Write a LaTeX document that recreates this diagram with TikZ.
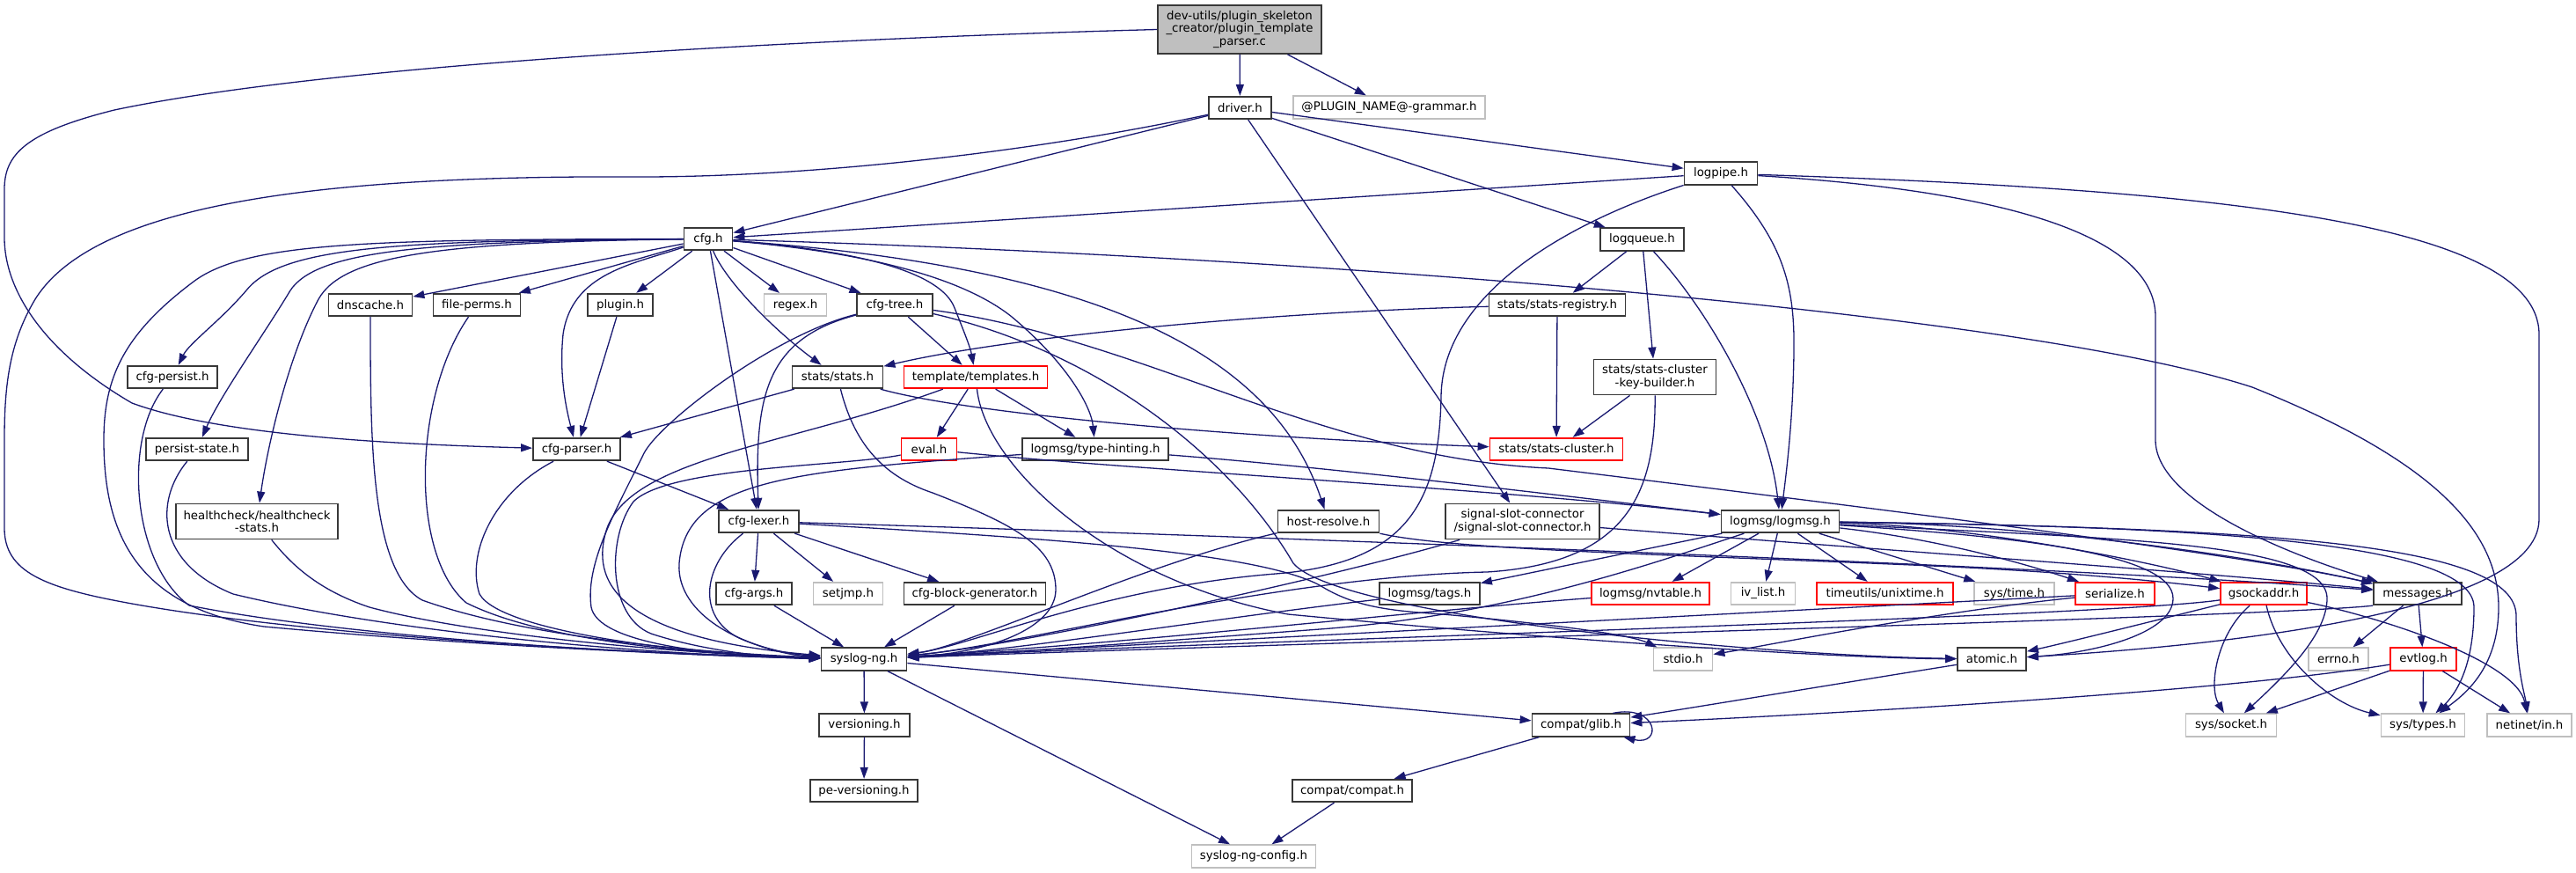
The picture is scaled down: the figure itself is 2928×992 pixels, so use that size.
\documentclass[tikz,border=0pt]{standalone}
\usepackage{fontspec}
\setmainfont{DejaVu Sans}
\usetikzlibrary{arrows.meta}
\definecolor{edgeblue}{HTML}{191970}
\definecolor{nodedark}{HTML}{383838}
\definecolor{nodered}{HTML}{FF0000}
\definecolor{nodelight}{HTML}{BFBFBF}
\newcommand{\nodefont}{\fontsize{13.33}{14.7}\selectfont}
\tikzset{
  hdr/.style={draw=nodedark, line width=1.8pt, rectangle, inner sep=0pt, minimum height=25.5pt, align=center, font=\nodefont, text=black},
  hdrred/.style={hdr, draw=nodered},
  hdrsys/.style={hdr, draw=nodelight},
  tall/.style={minimum height=40pt},
  dep/.style={draw=edgeblue, line width=1.3pt, -{Triangle[length=13pt,width=9pt]}},
}
\begin{document}
\begin{tikzpicture}[x=1pt,y=-1pt]
\useasboundingbox (0,0) rectangle (2928,992);
\fill[white] (0,0) rectangle (2928,992);
% nodes
\node[hdr, fill=nodelight, minimum width=186pt, minimum height=55pt] (root) at (1409,33.5) {dev-utils/plugin\_skeleton\\\_creator/plugin\_template\\\_parser.c};
\node[hdr, minimum width=71pt] (driver) at (1409.5,122.5) {driver.h};
\node[hdrsys, minimum width=218pt] (grammar) at (1579,122) {@PLUGIN\_NAME@-grammar.h};
\node[hdr, minimum width=55pt] (cfg) at (805,271.5) {cfg.h};
\node[hdr, minimum width=83pt] (logpipe) at (1956,197) {logpipe.h};
\node[hdr, minimum width=95pt] (logqueue) at (1866.5,272) {logqueue.h};
\node[hdr, minimum width=95pt] (dnscache) at (421,346.5) {dnscache.h};
\node[hdr, minimum width=99pt] (fileperms) at (542,346.5) {file-perms.h};
\node[hdr, minimum width=74pt] (plugin) at (705,346.5) {plugin.h};
\node[hdrsys, minimum width=71pt] (regex) at (904,346.5) {regex.h};
\node[hdr, minimum width=86pt] (cfgtree) at (1017,346.5) {cfg-tree.h};
\node[hdr, minimum width=155pt] (statsreg) at (1770,346.5) {stats/stats-registry.h};
\node[hdr, minimum width=102pt] (cfgpersist) at (196,428.5) {cfg-persist.h};
\node[hdr, minimum width=103pt] (statsstats) at (952,428.5) {stats/stats.h};
\node[hdrred, minimum width=163pt] (templates) at (1109,428.5) {template/templates.h};
\node[hdr, tall, minimum width=139pt] (keybuilder) at (1881,428.5) {stats/stats-cluster\\-key-builder.h};
\node[hdr, minimum width=116pt] (persist) at (224,510.5) {persist-state.h};
\node[hdr, minimum width=99pt] (cfgparser) at (655.5,510.5) {cfg-parser.h};
\node[hdrred, minimum width=63pt] (eval) at (1056,510.5) {eval.h};
\node[hdr, minimum width=166pt] (typehint) at (1245,510.5) {logmsg/type-hinting.h};
\node[hdrred, minimum width=151pt] (statscluster) at (1769,510.5) {stats/stats-cluster.h};
\node[hdr, tall, minimum width=184pt] (health) at (292,592.5) {healthcheck/healthcheck\\-stats.h};
\node[hdr, minimum width=91pt] (cfglexer) at (862.5,592.5) {cfg-lexer.h};
\node[hdr, minimum width=115pt] (hostres) at (1510,592.5) {host-resolve.h};
\node[hdr, tall, minimum width=175pt] (signal) at (1730.5,592.5) {signal-slot-connector\\/signal-slot-connector.h};
\node[hdr, minimum width=134pt] (logmsg) at (2023.5,592.5) {logmsg/logmsg.h};
\node[hdr, minimum width=86pt] (cfgargs) at (857,674.5) {cfg-args.h};
\node[hdrsys, minimum width=79pt] (setjmp) at (964,674.5) {setjmp.h};
\node[hdr, minimum width=161pt] (blockgen) at (1108,674.5) {cfg-block-generator.h};
\node[hdr, minimum width=114pt] (tags) at (1625,674.5) {logmsg/tags.h};
\node[hdrred, minimum width=134pt] (nvtable) at (1876,674.5) {logmsg/nvtable.h};
\node[hdrsys, minimum width=73pt] (ivlist) at (2004,674.5) {iv\_list.h};
\node[hdrred, minimum width=155pt] (unixtime) at (2142.5,674.5) {timeutils/unixtime.h};
\node[hdrsys, minimum width=91pt] (systime) at (2289.5,674.5) {sys/time.h};
\node[hdrred, minimum width=90pt] (serialize) at (2404,674.5) {serialize.h};
\node[hdrred, minimum width=98pt] (gsockaddr) at (2573,674.5) {gsockaddr.h};
\node[hdr, minimum width=100pt] (messages) at (2748,674.5) {messages.h};
\node[hdr, minimum width=97pt] (syslogng) at (982,749) {syslog-ng.h};
\node[hdrsys, minimum width=67pt] (stdio) at (1913,749) {stdio.h};
\node[hdr, minimum width=78pt] (atomic) at (2264,749) {atomic.h};
\node[hdrsys, minimum width=68pt] (errno) at (2658,749) {errno.h};
\node[hdrred, minimum width=75pt] (evtlog) at (2754.5,749) {evtlog.h};
\node[hdr, minimum width=103pt] (versioning) at (982.5,824) {versioning.h};
\node[hdr, minimum width=111pt] (glib) at (1797,824) {compat/glib.h};
\node[hdrsys, minimum width=103pt] (syssocket) at (2536,824) {sys/socket.h};
\node[hdrsys, minimum width=95pt] (systypes) at (2754,824) {sys/types.h};
\node[hdrsys, minimum width=96pt] (netinet) at (2875,824) {netinet/in.h};
\node[hdr, minimum width=122pt] (peversioning) at (982,898.5) {pe-versioning.h};
\node[hdr, minimum width=136pt] (compat) at (1537,898.5) {compat/compat.h};
\node[hdrsys, minimum width=141pt] (config) at (1425,973) {syslog-ng-config.h};

% root
\draw[dep] (root) -- (driver);
\draw[dep] (root) -- (grammar);
\draw[dep] (root.west) .. controls (1000,42) and (400,68) .. (130,125) .. controls (30,150) and (5,175) .. (5,215) -- (5,270) .. controls (5,330) and (50,400) .. (150,458) .. controls (250,495) and (450,505) .. (cfgparser);
% driver
\draw[dep] (driver) -- (cfg);
\draw[dep] (driver) .. controls (1150,178) and (900,201) .. (730,201) .. controls (380,199) and (110,228) .. (40,340) .. controls (10,390) and (5,440) .. (5,500) -- (5,600) .. controls (5,650) and (50,668) .. (150,686) .. controls (350,722) and (700,742) .. (syslogng);
\draw[dep] (driver) -- (logpipe);
\draw[dep] (driver) -- (logqueue);
\draw[dep] (driver) -- (signal);
% logpipe
\draw[dep] (logpipe) -- (cfg);
\draw[dep] (logpipe) .. controls (1790,250) and (1640,330) .. (1638,450) .. controls (1636,570) and (1600,640) .. (1450,652) .. controls (1250,668) and (1100,735) .. (syslogng);
\draw[dep] (logpipe) .. controls (2030,280) and (2040,330) .. (2039,400) .. controls (2038,480) and (2030,540) .. (logmsg);
\draw[dep] (logpipe) .. controls (2250,215) and (2450,260) .. (2450,360) -- (2450,500) .. controls (2450,570) and (2600,630) .. (messages);
\draw[dep] (logpipe) .. controls (2500,215) and (2886,250) .. (2886,380) -- (2886,590) .. controls (2886,700) and (2500,735) .. (atomic);
% logqueue
\draw[dep] (logqueue) -- (statsreg);
\draw[dep] (logqueue) -- (keybuilder);
\draw[dep] (logqueue) .. controls (1940,350) and (2010,470) .. (logmsg);
% stats registry / key builder
\draw[dep] (statsreg) -- (statscluster);
\draw[dep] (statsreg) .. controls (1450,354) and (1150,382) .. (statsstats);
\draw[dep] (keybuilder) -- (statscluster);
\draw[dep] (keybuilder) .. controls (1882,560) and (1850,640) .. (1690,650) .. controls (1450,655) and (1150,735) .. (syslogng);
% stats.h
\draw[dep] (statsstats) -- (cfgparser);
\draw[dep] (statsstats) .. controls (970,500) and (1000,540) .. (1060,560) .. controls (1150,595) and (1200,620) .. (1200,670) .. controls (1200,715) and (1120,742) .. (syslogng);
\draw[dep] (statsstats) .. controls (1100,470) and (1400,497) .. (statscluster);
% templates
\draw[dep] (templates) -- (eval);
\draw[dep] (templates) -- (typehint);
\draw[dep] (templates) .. controls (900,505) and (720,520) .. (690,600) .. controls (670,660) and (700,725) .. (syslogng);
\draw[dep] (templates) .. controls (1120,530) and (1260,660) .. (1464,698) .. controls (1800,730) and (2100,748) .. (atomic);
% cfg-tree
\draw[dep] (cfgtree) -- (templates);
\draw[dep] (cfgtree) .. controls (870,385) and (858,450) .. (cfglexer);
\draw[dep] (cfgtree) .. controls (880,380) and (750,480) .. (732,515) .. controls (700,580) and (665,640) .. (672,690) .. controls (680,730) and (800,745) .. (syslogng);
\draw[dep] (cfgtree) .. controls (1300,385) and (1500,520) .. (1760,532) .. controls (2150,580) and (2550,630) .. (messages);
\draw[dep] (cfgtree) .. controls (1250,400) and (1400,520) .. (1470,640) .. controls (1520,700) and (2000,745) .. (atomic);
% cfg.h
\draw[dep] (cfg) -- (dnscache);
\draw[dep] (cfg) -- (fileperms);
\draw[dep] (cfg) -- (plugin);
\draw[dep] (cfg) -- (regex);
\draw[dep] (cfg) -- (cfgtree);
\draw[dep] (cfg) .. controls (825,320) and (880,375) .. (statsstats);
\draw[dep] (cfg) .. controls (980,285) and (1070,310) .. (1085,350) .. controls (1095,375) and (1103,395) .. (templates);
\draw[dep] (cfg) .. controls (1000,288) and (1100,320) .. (1150,360) .. controls (1210,410) and (1240,460) .. (typehint);
\draw[dep] (cfg) -- (cfglexer);
\draw[dep] (cfg) .. controls (720,300) and (650,310) .. (640,380) .. controls (635,430) and (645,470) .. (cfgparser);
\draw[dep] (cfg) .. controls (450,273) and (320,280) .. (280,330) .. controls (250,365) and (215,390) .. (cfgpersist);
\draw[dep] (cfg) .. controls (480,274) and (360,285) .. (330,330) .. controls (300,380) and (250,450) .. (persist);
\draw[dep] (cfg) .. controls (500,275) and (390,290) .. (362,340) .. controls (330,400) and (305,500) .. (health);
\draw[dep] (cfg) .. controls (420,272) and (280,275) .. (220,320) .. controls (140,380) and (118,430) .. (118,500) .. controls (118,600) and (150,690) .. (300,712) .. controls (550,735) and (800,745) .. (syslogng);
\draw[dep] (cfg) .. controls (1200,300) and (1440,380) .. (hostres);
\draw[dep] (cfg) .. controls (1500,292) and (2300,355) .. (2560,440) .. controls (2760,520) and (2840,600) .. (2840,690) .. controls (2840,760) and (2800,790) .. (systypes);
% plugin, dnscache, file-perms, persist, health, parser
\draw[dep] (plugin) -- (cfgparser);
\draw[dep] (dnscache) .. controls (421,500) and (421,650) .. (480,682) .. controls (600,725) and (800,742) .. (syslogng);
\draw[dep] (fileperms) .. controls (470,450) and (465,630) .. (530,685) .. controls (620,730) and (800,744) .. (syslogng);
\draw[dep] (cfgpersist) .. controls (140,500) and (150,640) .. (215,688) .. controls (400,725) and (750,745) .. (syslogng);
\draw[dep] (persist) .. controls (175,570) and (178,640) .. (265,675) .. controls (450,720) and (750,745) .. (syslogng);
\draw[dep] (health) .. controls (330,640) and (360,670) .. (420,690) .. controls (550,725) and (800,744) .. (syslogng);
\draw[dep] (cfgparser) .. controls (560,560) and (530,630) .. (545,675) .. controls (570,720) and (800,745) .. (syslogng);
\draw[dep] (cfgparser) -- (cfglexer);
% cfg-lexer
\draw[dep] (cfglexer) -- (cfgargs);
\draw[dep] (cfglexer) -- (setjmp);
\draw[dep] (cfglexer) -- (blockgen);
\draw[dep] (cfglexer) .. controls (800,640) and (790,700) .. (840,725) .. controls (870,738) and (900,745) .. (syslogng);
\draw[dep] (cfglexer) .. controls (1200,602) and (2300,640) .. (messages);
\draw[dep] (cfglexer) .. controls (1200,612) and (1430,628) .. (1500,665) .. controls (1540,690) and (1580,694) .. (1640,698) .. controls (1750,708) and (1850,720) .. (stdio);
\draw[dep] (cfgargs) -- (syslogng);
\draw[dep] (blockgen) -- (syslogng);
% eval, type-hinting
\draw[dep] (eval) .. controls (960,530) and (760,530) .. (720,570) .. controls (690,610) and (690,700) .. (740,720) .. controls (800,740) and (880,748) .. (syslogng);
\draw[dep] (eval) .. controls (1300,535) and (1700,555) .. (logmsg);
\draw[dep] (typehint) .. controls (1500,530) and (1750,560) .. (logmsg);
\draw[dep] (typehint) .. controls (900,535) and (780,545) .. (772,640) .. controls (768,700) and (850,740) .. (syslogng);
% host-resolve, signal
\draw[dep] (hostres) .. controls (1300,640) and (1100,735) .. (syslogng);
\draw[dep] (hostres.south east) .. controls (1650,625) and (1900,630) .. (2196,643) .. controls (2350,650) and (2450,660) .. (gsockaddr);
\draw[dep] (signal) .. controls (1500,660) and (1150,735) .. (syslogng);
\draw[dep] (signal) .. controls (2100,622) and (2500,650) .. (messages);
% logmsg
\draw[dep] (logmsg) -- (tags);
\draw[dep] (logmsg) -- (nvtable);
\draw[dep] (logmsg) -- (ivlist);
\draw[dep] (logmsg) -- (unixtime);
\draw[dep] (logmsg) -- (systime);
\draw[dep] (logmsg) .. controls (2200,612) and (2300,640) .. (serialize);
\draw[dep] (logmsg) .. controls (2250,598) and (2450,640) .. (gsockaddr);
\draw[dep] (logmsg) .. controls (2300,595) and (2550,630) .. (messages);
\draw[dep] (logmsg) .. controls (2300,610) and (2470,630) .. (2470,680) .. controls (2470,720) and (2380,742) .. (atomic);
\draw[dep] (logmsg) .. controls (2400,612) and (2645,615) .. (2645,680) .. controls (2645,720) and (2600,765) .. (syssocket);
\draw[dep] (logmsg) .. controls (2500,598) and (2812,615) .. (2812,690) .. controls (2812,760) and (2790,790) .. (systypes);
\draw[dep] (logmsg) .. controls (2600,600) and (2860,620) .. (2860,700) .. controls (2860,760) and (2870,790) .. (netinet);
\draw[dep] (logmsg) .. controls (1850,650) and (1700,700) .. (1500,715) .. controls (1300,730) and (1100,745) .. (syslogng);
% bottom row
\draw[dep] (tags) .. controls (1400,700) and (1150,740) .. (syslogng);
\draw[dep] (nvtable) .. controls (1600,695) and (1300,730) .. (syslogng);
\draw[dep] (serialize) -- (syslogng);
\draw[dep] (serialize) .. controls (2200,695) and (2000,735) .. (stdio);
\draw[dep] (gsockaddr) .. controls (2400,700) and (1500,725) .. (syslogng);
\draw[dep] (gsockaddr) .. controls (2450,705) and (2350,730) .. (atomic);
\draw[dep] (gsockaddr) .. controls (2520,720) and (2510,780) .. (syssocket);
\draw[dep] (gsockaddr) .. controls (2590,750) and (2650,800) .. (systypes);
\draw[dep] (gsockaddr) .. controls (2700,700) and (2860,750) .. (netinet);
\draw[dep] (messages.south west) .. controls (2600,700) and (1500,730) .. (syslogng);
\draw[dep] (messages) -- (errno);
\draw[dep] (messages) -- (evtlog);
\draw[dep] (evtlog) .. controls (2500,790) and (2000,815) .. (glib);
\draw[dep] (evtlog) -- (syssocket);
\draw[dep] (evtlog) -- (systypes);
\draw[dep] (evtlog) -- (netinet);
\draw[dep] (atomic) .. controls (2100,775) and (1950,800) .. (glib);
% syslog-ng.h and below
\draw[dep] (syslogng) -- (versioning);
\draw[dep] (syslogng) -- (glib);
\draw[dep] (syslogng) -- (config);
\draw[dep] (versioning) -- (peversioning);
\draw[dep] (glib) -- (compat);
\draw[dep] (compat) -- (config);
\draw[dep] ([xshift=-20pt]glib.north east) .. controls (1885,800) and (1890,848) .. ([xshift=-8pt]glib.south east);
\end{tikzpicture}
\end{document}
